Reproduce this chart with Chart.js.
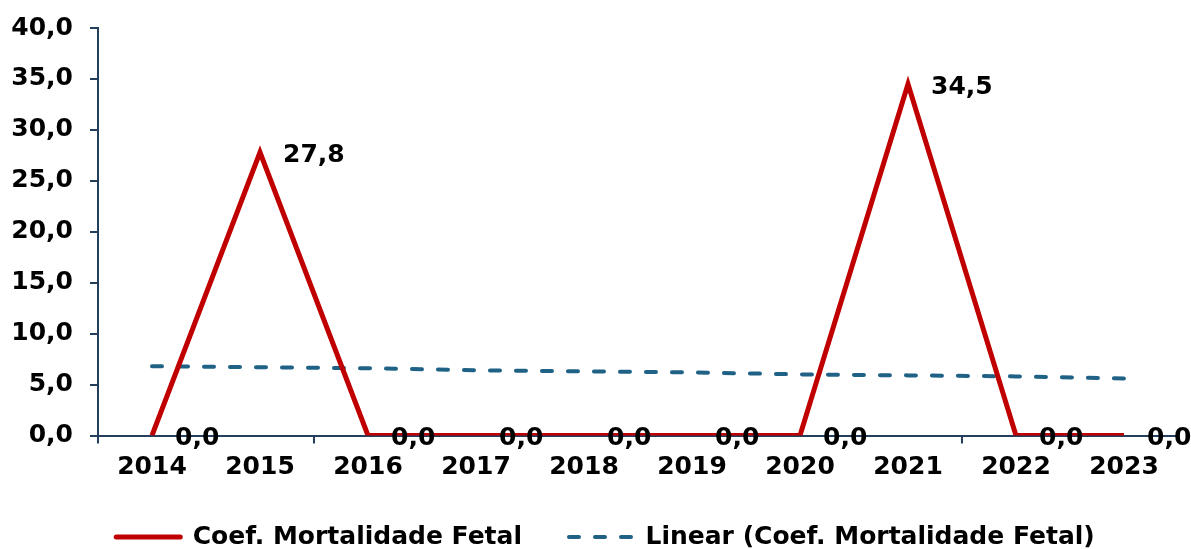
<!DOCTYPE html>
<html>
<head>
<meta charset="utf-8">
<script src="https://cdn.jsdelivr.net/npm/chart.js@4"></script>
<style>
  html, body { margin: 0; padding: 0; background: #fff; }
  #wrap { width: 1191px; height: 549px; }
</style>
</head>
<body>
<div id="wrap"><canvas id="myChart"></canvas></div>
<script>
// data
const years = ['2014', '2015', '2016', '2017', '2018', '2019', '2020', '2021', '2022', '2023'];
const coefFetal = [0, 27.8, 0, 0, 0, 0, 0, 34.5, 0, 0];
const linearTrend = [6.8, 6.7, 6.6, 6.4, 6.3, 6.2, 6.0, 5.9, 5.8, 5.6];
const yTicks = [0, 5, 10, 15, 20, 25, 30, 35, 40];

const axisColor = '#243F5E';
const fmt = v => Number(v).toFixed(1).replace('.', ',');

Chart.defaults.font.family = '"DejaVu Sans", Verdana, sans-serif';
Chart.defaults.font.weight = 'bold';
Chart.defaults.font.size = 25;
Chart.defaults.color = '#000';

// value labels next to each point of the first series
const valueLabels = {
  id: 'valueLabels',
  afterLayout(chart) {
    // legend centred a little right of the canvas middle
    chart.legend.left = 33;
  },
  afterDatasetsDraw(chart) {
    const ctx = chart.ctx;
    const meta = chart.getDatasetMeta(0);
    ctx.save();
    ctx.font = 'bold 25px "DejaVu Sans", Verdana, sans-serif';
    ctx.fillStyle = '#000';
    ctx.textAlign = 'left';
    ctx.textBaseline = 'middle';
    meta.data.forEach((pt, i) => {
      ctx.fillText(fmt(coefFetal[i]), pt.x + 23, pt.y + 3);
    });
    ctx.restore();
  }
};

const config = {
  type: 'line',
  data: {
    labels: years,
    datasets: [{
      label: 'Coef. Mortalidade Fetal',
      data: coefFetal,
      borderColor: '#C00000',
      backgroundColor: '#C00000',
      borderWidth: 5,
      borderJoinStyle: 'miter',
      pointRadius: 0,
      pointStyle: 'line',
      tension: 0
    }, {
      label: 'Linear (Coef. Mortalidade Fetal)',
      data: linearTrend,
      borderColor: '#1F6286',
      backgroundColor: '#1F6286',
      borderWidth: 4,
      borderDash: [10, 16],
      borderCapStyle: 'round',
      pointRadius: 0,
      pointStyle: 'line',
      tension: 0
    }]
  },
  options: {
    responsive: true,
    maintainAspectRatio: false,
    animation: false,
    layout: { padding: { left: 0, right: 13, top: 28, bottom: -10.5 } },
    scales: {
      x: {
        offset: true,
        grid: {
          offset: true,
          drawOnChartArea: false,
          tickLength: 8,
          lineWidth: 2,
          color: c => [0, 2, 8].includes(c.index) ? axisColor : 'rgba(0,0,0,0)'
        },
        border: { color: axisColor, width: 2 },
        ticks: { padding: 9, autoSkip: false, maxRotation: 0 },
        afterFit: s => { s.height = 42; }
      },
      y: {
        min: 0,
        max: 40,
        afterBuildTicks: s => { s.ticks = yTicks.map(v => ({ value: v })); },
        grid: {
          drawOnChartArea: false,
          tickLength: 8,
          lineWidth: 2,
          color: axisColor
        },
        border: { color: axisColor, width: 2 },
        ticks: { padding: 17, callback: v => fmt(v) },
        afterFit: s => { s.width = 98; s.paddingTop = 0; s.paddingBottom = 0; }
      }
    },
    plugins: {
      legend: {
        position: 'bottom',
        labels: {
          usePointStyle: true,
          pointStyleWidth: 64,
          padding: 47,
          font: { size: 25, weight: 'bold' },
          color: '#000',
          generateLabels(chart) {
            const items = Chart.defaults.plugins.legend.labels.generateLabels(chart);
            items.forEach(it => {
              const ds = chart.data.datasets[it.datasetIndex];
              it.strokeStyle = ds.borderColor;
              it.lineWidth = ds.borderWidth;
              it.lineDash = ds.borderDash || [];
              it.lineCap = 'round';
              it.pointStyle = 'line';
            });
            return items;
          }
        }
      },
      tooltip: { enabled: false }
    }
  },
  plugins: [valueLabels]
};

const myChart = new Chart(document.getElementById('myChart'), config);
</script>
</body>
</html>
